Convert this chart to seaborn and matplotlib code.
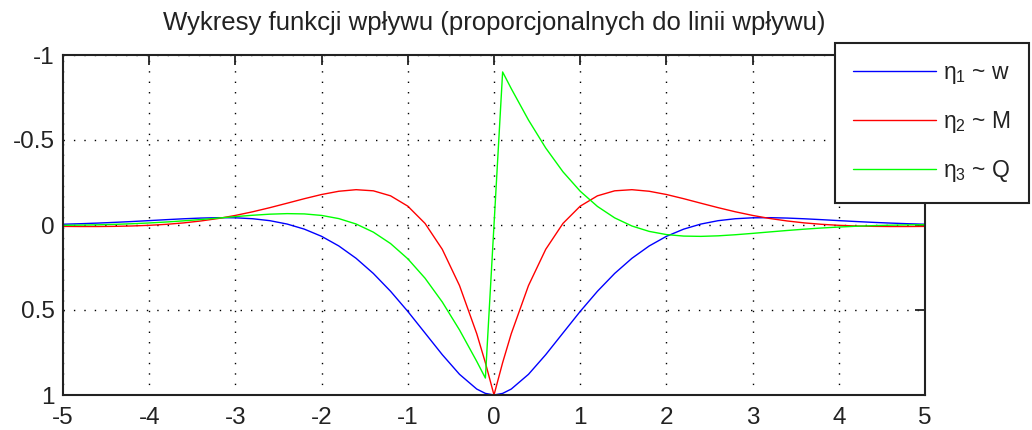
import matplotlib
matplotlib.use("Agg")
import matplotlib.pyplot as plt
import seaborn as sns
import pandas as pd

# ---- data ----
x = [-5.0, -4.8, -4.6, -4.4, -4.2, -4.0, -3.8, -3.6, -3.4, -3.2, -3.0, -2.8, -2.6,
     -2.4, -2.2, -2.0, -1.8, -1.6, -1.4, -1.2, -1.0, -0.8, -0.6, -0.4, -0.2,
     -0.1, 0.0, 0.1,
     0.2, 0.4, 0.6, 0.8, 1.0, 1.2, 1.4, 1.6, 1.8, 2.0, 2.2, 2.4, 2.6,
     2.8, 3.0, 3.2, 3.4, 3.6, 3.8, 4.0, 4.2, 4.4, 4.6, 4.8, 5.0]

eta1_w = [-0.0045, -0.0075, -0.0112, -0.0155, -0.0204, -0.0258, -0.0314, -0.0366, -0.0408,
          -0.0431, -0.0423, -0.0369, -0.0254, -0.0056, 0.0244, 0.0667, 0.1234, 0.1959,
          0.2849, 0.3899, 0.5083, 0.6354, 0.7628, 0.8784, 0.9651,
          0.9906, 1.0, 0.9906,
          0.9651, 0.8784, 0.7628, 0.6354, 0.5083, 0.3899, 0.2849, 0.1959, 0.1234, 0.0667,
          0.0244, -0.0056, -0.0254, -0.0369, -0.0423, -0.0431, -0.0408, -0.0366, -0.0314,
          -0.0258, -0.0204, -0.0155, -0.0112, -0.0075, -0.0045]

eta2_M = [0.0083, 0.0089, 0.0089, 0.0079, 0.0057, 0.0019, -0.0040, -0.0124, -0.0238,
          -0.0383, -0.0563, -0.0777, -0.1020, -0.1282, -0.1548, -0.1794, -0.1985, -0.2077,
          -0.2011, -0.1716, -0.1108, -0.0093, 0.1431, 0.3564, 0.6397,
          0.8100, 1.0, 0.8100,
          0.6397, 0.3564, 0.1431, -0.0093, -0.1108, -0.1716, -0.2011, -0.2077, -0.1985,
          -0.1794, -0.1548, -0.1282, -0.1020, -0.0777, -0.0563, -0.0383, -0.0238, -0.0124,
          -0.0040, 0.0019, 0.0057, 0.0079, 0.0089, 0.0089, 0.0083]

eta3_Q = [0.0019, 0.0007, -0.0011, -0.0038, -0.0074, -0.0120, -0.0177, -0.0245, -0.0323,
          -0.0407, -0.0493, -0.0573, -0.0637, -0.0669, -0.0652, -0.0563, -0.0376, -0.0059,
          0.0419, 0.1092, 0.1988, 0.3130, 0.4530, 0.6174, 0.8024,
          0.9003, 0.0, -0.9003,
          -0.8024, -0.6174, -0.4530, -0.3130, -0.1988, -0.1092, -0.0419, 0.0059, 0.0376,
          0.0563, 0.0652, 0.0669, 0.0637, 0.0573, 0.0493, 0.0407, 0.0323, 0.0245, 0.0177,
          0.0120, 0.0074, 0.0038, 0.0011, -0.0007, -0.0019]

labels = ["η$_1$ ~ w", "η$_2$ ~ M", "η$_3$ ~ Q"]
colors = ["#0000ff", "#ff0000", "#00ff00"]
x_ticks = [-5, -4, -3, -2, -1, 0, 1, 2, 3, 4, 5]
y_ticks = [-1, -0.5, 0, 0.5, 1]
y_ticklabels = ["-1", "-0.5", "0", "0.5", "1"]
title = "Wykresy funkcji wpływu (proporcjonalnych do linii wpływu)"

# ---- styling ----
sns.set_style("white")
plt.rcParams["font.family"] = ["Liberation Sans", "DejaVu Sans"]
plt.rcParams["mathtext.fontset"] = "custom"
plt.rcParams["mathtext.rm"] = "Liberation Sans"
plt.rcParams["mathtext.it"] = "Liberation Sans"

df = pd.DataFrame({"x": x, "w": eta1_w, "M": eta2_M, "Q": eta3_Q})

fig = plt.figure(figsize=(10.32, 4.30), dpi=100)
ax = fig.add_axes([63 / 1032, 1 - 395 / 430, (925 - 63) / 1032, (395 - 55) / 430])

for col, lab, c in zip(["w", "M", "Q"], labels, colors):
    sns.lineplot(data=df, x="x", y=col, ax=ax, color=c, linewidth=1.0,
                 label=lab, estimator=None, sort=False)

ax.set_xlim(-5, 5)
ax.set_ylim(1, -1)
ax.set_xticks(x_ticks)
ax.set_xticklabels([str(t) for t in x_ticks])
ax.set_yticks(y_ticks)
ax.set_yticklabels(y_ticklabels)
ax.set_xlabel("")
ax.set_ylabel("")

ax.grid(True, color="black", linestyle=(0, (1, 6.5)), linewidth=1.0)
for s in ax.spines.values():
    s.set_color("#222222")
    s.set_linewidth(1.5)
ax.tick_params(direction="in", length=7, width=1.3, color="#222222",
               top=True, right=True, labelsize=17.5, pad=6, labelcolor="#222222")
ax.tick_params(axis="x", pad=9)

ax.set_title(title, fontsize=18.5, pad=18, color="#222222")

leg = ax.legend(loc="upper left", bbox_to_anchor=(835 / 1032, 1 - 43 / 430),
                bbox_transform=fig.transFigure, frameon=True, fancybox=False,
                framealpha=1, edgecolor="#222222", fontsize=16.5,
                handlelength=3.6, handletextpad=0.3, labelspacing=1.0,
                borderpad=0.8, borderaxespad=0)
leg.get_frame().set_linewidth(1.5)
for t in leg.get_texts():
    t.set_color("#222222")

fig.savefig("out.png", dpi=100)
